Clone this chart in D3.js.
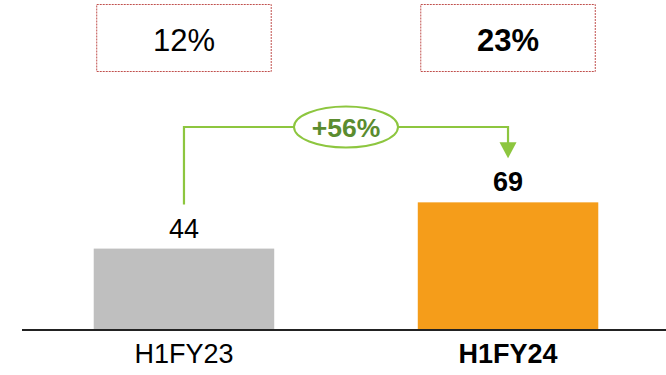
<!DOCTYPE html>
<html><head><meta charset="utf-8">
<script src="https://cdn.jsdelivr.net/npm/d3@7"></script>
<style>body{margin:0;background:#fff}svg{display:block;font-family:"Liberation Sans",Arial,sans-serif}</style>
</head><body><svg id="c" width="666" height="375"></svg>
<script>
const categories = ["H1FY23", "H1FY24"];
const values = [44, 69];
const margins = ["12%", "23%"];
const growthLabel = "+56%";
const colors = ["#bfbfbf", "#f59d1a"];
const boldFlags = [false, true];

const svg = d3.select("#c");
const baseY = 330;
const x = d3.scaleBand().domain(categories).range([26, 666]).paddingInner(0.443).paddingOuter(0.209);
const y = d3.scaleLinear().domain([0, 100]).range([baseY, baseY - 185]);

// top boxes
const boxes = svg.selectAll("g.box").data(categories).join("g").attr("class","box");
boxes.append("rect")
  .attr("x", d => x(d) + 3).attr("y", 4.5)
  .attr("width", x.bandwidth() - 6).attr("height", 67)
  .attr("fill", "#fff").attr("stroke", "#c0504d").attr("stroke-width", 1)
  .attr("stroke-dasharray", "2,1");
boxes.append("text")
  .attr("x", d => x(d) + x.bandwidth()/2).attr("y", 51)
  .attr("text-anchor","middle").attr("font-size", 31)
  .attr("font-weight", (d,i) => boldFlags[i] ? "bold" : "normal")
  .attr("fill","#000").text((d,i) => margins[i]);

// bars
svg.selectAll("rect.bar").data(categories).join("rect").attr("class","bar")
  .attr("x", d => x(d)).attr("width", x.bandwidth())
  .attr("y", (d,i) => y(values[i])).attr("height", (d,i) => baseY - y(values[i]))
  .attr("fill", (d,i) => colors[i]);

// value labels
svg.selectAll("text.val").data(categories).join("text").attr("class","val")
  .attr("x", d => x(d) + x.bandwidth()/2).attr("y", (d,i) => y(values[i]) - 11)
  .attr("text-anchor","middle").attr("font-size", 27)
  .attr("font-weight", (d,i) => boldFlags[i] ? "bold" : "normal")
  .text((d,i) => values[i]);

// axis line
svg.append("line").attr("x1", 22).attr("x2", 666).attr("y1", baseY).attr("y2", baseY)
  .attr("stroke", "#222").attr("stroke-width", 2);

// category labels
svg.selectAll("text.cat").data(categories).join("text").attr("class","cat")
  .attr("x", d => x(d) + x.bandwidth()/2).attr("y", 363)
  .attr("text-anchor","middle").attr("font-size", 27)
  .attr("font-weight", (d,i) => boldFlags[i] ? "bold" : "normal")
  .text(d => d);

// growth arrow
const green = "#8dc63f";
const x1 = x(categories[0]) + x.bandwidth()/2;
const x2 = x(categories[1]) + x.bandwidth()/2;
const topY = 127;
const startY = y(values[0]) - 44;
const tipY = y(values[1]) - 44;
svg.append("path")
  .attr("d", `M${x1},${startY} V${topY} H${x2} V${tipY - 15}`)
  .attr("fill","none").attr("stroke", green).attr("stroke-width", 2.2);
svg.append("path")
  .attr("d", `M${x2 - 8.5},${tipY - 16} L${x2 + 8.5},${tipY - 16} L${x2},${tipY} Z`)
  .attr("fill", green);
const mx = (x1 + x2) / 2;
svg.append("ellipse").attr("cx", mx).attr("cy", topY).attr("rx", 52).attr("ry", 20.5)
  .attr("fill","#fff").attr("stroke", green).attr("stroke-width", 2);
svg.append("text").attr("x", mx).attr("y", topY + 10)
  .attr("text-anchor","middle").attr("font-size", 26.5).attr("font-weight","bold")
  .attr("fill", "#5b8c2f").text(growthLabel);
</script></body></html>
